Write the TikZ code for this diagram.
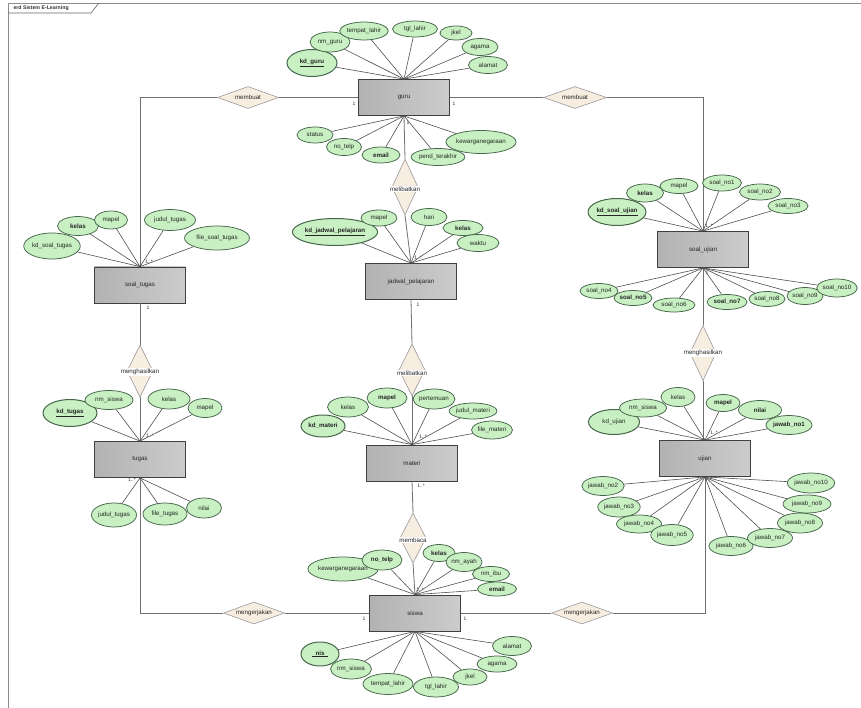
\documentclass[tikz,border=0pt]{standalone}
\usepackage{fontspec}
\setmainfont{Liberation Sans}
\usetikzlibrary{shapes.geometric}
\definecolor{attrfill}{HTML}{C8F0C2}
\definecolor{attrdraw}{HTML}{46664A}
\definecolor{relfill}{HTML}{F7EDE0}
\definecolor{reldraw}{HTML}{9A9A9A}
\definecolor{entleft}{HTML}{B2B2B2}
\definecolor{entright}{HTML}{CCCCCC}
\definecolor{wire}{HTML}{707070}
\definecolor{spoke}{HTML}{505050}
\newcommand{\tinyfont}{\fontsize{6.2}{7}\selectfont}
\newcommand{\cardfont}{\fontsize{5}{6}\selectfont}
\tikzset{
  attr/.style 2 args={ellipse, draw=attrdraw, fill=attrfill, line width=0.75pt,
    inner sep=0pt, minimum width=#1pt, minimum height=#2pt, font=\tinyfont, text=black!85},
  entity/.style={rectangle, draw=black!75, line width=0.8pt, left color=entleft,
    right color=entright, minimum width=91pt, minimum height=36pt, inner sep=0pt,
    font=\tinyfont, text=black!85},
  relh/.style={diamond, draw=reldraw, fill=relfill, line width=0.6pt, inner sep=0pt,
    minimum width=61pt, minimum height=22pt},
  relv/.style={diamond, draw=reldraw, fill=relfill, line width=0.6pt, inner sep=0pt,
    minimum width=26pt, minimum height=54pt},
  rellabel/.style={font=\tinyfont, text=black!85, inner sep=0.8pt},
  relvlabel/.style={font=\tinyfont, text=black!85, fill=white, inner sep=0.8pt},
  link/.style={draw=wire, line width=0.8pt},
  spokeline/.style={draw=spoke, line width=0.6pt},
  card/.style={font=\cardfont, text=black!80, inner sep=0pt},
}
\begin{document}
\begin{tikzpicture}[x=1pt,y=-1pt]
\useasboundingbox (0,0) rectangle (861,708);
\fill[white] (0,0) rectangle (861,708);

% diagram frame and its title tab
\draw[black!45, line width=0.5pt] (8,708) -- (8,3) -- (861,3);
\draw[black!60, line width=0.6pt] (8,13) -- (91,13) -- (99,3);
\node[font=\fontsize{5.2}{6}\selectfont\bfseries, text=black!80, anchor=west] (title) at (10,8.2) {erd Sistem E-Learning};

% entities
\node[entity] (guru) at (404,97.5) {guru};
\node[entity] (soaltugas) at (140,285) {soal\_tugas};
\node[entity] (jadwal) at (411,281.5) {jadwal\_pelajaran};
\node[entity] (soalujian) at (703,249.5) {soal\_ujian};
\node[entity] (tugas) at (140,459.5) {tugas};
\node[entity] (materi) at (412,463) {materi};
\node[entity] (ujian) at (705,458.5) {ujian};
\node[entity] (siswa) at (415,613) {siswa};

% relationships
\node[relh] (mbA) at (248,97.5) {};
\node[rellabel] (mbAt) at (mbA) {membuat};
\node[relh, minimum width=63pt] (mbB) at (575,97.5) {};
\node[rellabel] (mbBt) at (mbB) {membuat};
\node[relv, minimum height=56pt] (mlA) at (405,187) {};
\node[relvlabel] (mlAt) at (405,189) {melibatkan};
\node[relv, minimum height=52pt] (mlB) at (412,370) {};
\node[relvlabel] (mlBt) at (412,373) {melibatkan};
\node[relv, minimum height=52pt] (mhA) at (140,371) {};
\node[relvlabel] (mhAt) at (140,372) {menghasilkan};
\node[relv, minimum height=55pt] (mhB) at (703,353) {};
\node[relvlabel] (mhBt) at (703,353) {menghasilkan};
\node[relv, minimum height=50pt] (mc) at (413,538) {};
\node[relvlabel] (mct) at (413,540) {membaca};
\node[relh] (mkA) at (254,613) {};
\node[rellabel] (mkAt) at (mkA) {mengerjakan};
\node[relh] (mkB) at (582,613) {};
\node[rellabel] (mkBt) at (mkB) {mengerjakan};

% relationship connectors
\draw[link] (guru.west) -- (mbA.east);
\draw[link] (mbA.west) -| (soaltugas.north);
\draw[link] (guru.east) -- (mbB.west);
\draw[link] (mbB.east) -| (soalujian.north);
\draw[link] (guru.south) -- (mlA.north);
\draw[link] (mlA.south) -- (jadwal.north);
\draw[link] (jadwal.south) -- (mlB.north);
\draw[link] (mlB.south) -- (materi.north);
\draw[link] (soaltugas.south) -- (mhA.north);
\draw[link] (mhA.south) -- (tugas.north);
\draw[link] (soalujian.south) -- (mhB.north);
\draw[link] (mhB.south) -- (mhB.south |- ujian.north);
\draw[link] (materi.south) -- (mc.north);
\draw[link] (mc.south) -- (siswa.north);
\draw[link] (tugas.south) |- (mkA.west);
\draw[link] (mkA.east) -- (siswa.west);
\draw[link] (siswa.east) -- (mkB.west);
\draw[link] (mkB.east) -| (ujian.south);

% cardinalities
\node[card] (c1) at (354,104) {1};
\node[card] (c2) at (454,104) {1};
\node[card] (c3) at (408,123) {1};
\node[card] (c4) at (149,262) {1..*};
\node[card] (c5) at (148,308) {1};
\node[card] (c6) at (418,258) {1..*};
\node[card] (c7) at (418,305) {1};
\node[card] (c8) at (709,226) {1..*};
\node[card] (c9) at (707,273) {1};
\node[card] (c10) at (150,436) {1..*};
\node[card] (c11) at (132,480) {1..*};
\node[card] (c12) at (423,437) {1..*};
\node[card] (c13) at (421,486) {1..*};
\node[card] (c14) at (714,433) {1..*};
\node[card] (c15) at (709,479) {1..*};
\node[card] (c16) at (420,590) {1..*};
\node[card] (c17) at (364,619) {1};
\node[card] (c18) at (465,619) {1};

% attributes of guru
\node[attr={50}{27}, line width=1pt, font=\tinyfont\bfseries] (gA1) at (312,63) {\underline{kd\_guru}};
\node[attr={40}{20}] (gA2) at (330,42) {nm\_guru};
\node[attr={44}{18}] (gA3) at (364,31) {tempat\_lahir};
\node[attr={45}{16}] (gA4) at (415,29) {tgl\_lahir};
\node[attr={32}{14}] (gA5) at (456,33) {jkel};
\node[attr={36}{17}] (gA6) at (480,47) {agama};
\node[attr={39}{17}] (gA7) at (488,65) {alamat};
\node[attr={36}{16}] (gB1) at (315,135) {status};
\node[attr={35}{17}] (gB2) at (344,147) {no\_telp};
\node[attr={38}{16}, font=\tinyfont\bfseries] (gB3) at (381,155) {email};
\node[attr={50}{17}] (gB4) at (438,157) {pend\_terakhir};
\node[attr={62}{23}] (gB5) at (481,142) {kewarganegaraan};
\foreach \a in {gA1,gA2,gA3,gA4,gA5,gA6,gA7} \draw[spokeline] (\a) -- (guru.north);
\foreach \a in {gB1,gB2,gB3,gB4,gB5} \draw[spokeline] (\a) -- (guru.south);

% attributes of soal_ujian
\node[attr={48}{27}, line width=1pt, font=\tinyfont\bfseries] (uA1) at (617,212) {\underline{kd\_soal\_ujian}};
\node[attr={37}{18}, font=\tinyfont\bfseries] (uA2) at (645,193) {kelas};
\node[attr={38}{15}] (uA3) at (679,186) {mapel};
\node[attr={39}{16}] (uA4) at (722,183) {soal\_no1};
\node[attr={41}{16}] (uA5) at (760,192) {soal\_no2};
\node[attr={40}{15}] (uA6) at (788,206) {soal\_no3};
\node[attr={38}{15}] (uB1) at (599,291) {soal\_no4};
\node[attr={38}{15}, font=\tinyfont\bfseries] (uB2) at (633,298) {soal\_no5};
\node[attr={42}{14}] (uB3) at (674,305) {soal\_no6};
\node[attr={40}{15}, font=\tinyfont\bfseries] (uB4) at (727,302) {soal\_no7};
\node[attr={36}{15}] (uB5) at (767,299) {soal\_no8};
\node[attr={36}{17}] (uB6) at (805,296) {soal\_no9};
\node[attr={40}{18}] (uB7) at (837,288) {soal\_no10};
\foreach \a in {uA1,uA2,uA3,uA4,uA5,uA6} \draw[spokeline] (\a) -- (soalujian.north);
\foreach \a in {uB1,uB2,uB3,uB4,uB5,uB6,uB7} \draw[spokeline] (\a) -- (soalujian.south);

% attributes of soal_tugas
\node[attr={53}{26}] (tA1) at (52,246) {kd\_soal\_tugas};
\node[attr={41}{19}, font=\tinyfont\bfseries] (tA2) at (78,226) {kelas};
\node[attr={33}{18}] (tA3) at (111,220) {mapel};
\node[attr={51}{21}] (tA4) at (170,220) {judul\_tugas};
\node[attr={65}{24}] (tA5) at (217,238) {file\_soal\_tugas};
\foreach \a in {tA1,tA2,tA3,tA4,tA5} \draw[spokeline] (\a) -- (soaltugas.north);

% attributes of jadwal_pelajaran
\node[attr={71}{27}, line width=1pt, font=\tinyfont\bfseries] (jA1) at (335,232) {\underline{kd\_jadwal\_pelajaran}};
\node[attr={36}{16}] (jA2) at (379,218) {mapel};
\node[attr={36}{17}] (jA3) at (429,217) {hari};
\node[attr={40}{15}, font=\tinyfont\bfseries] (jA4) at (463,228) {kelas};
\node[attr={42}{17}] (jA5) at (478,243) {waktu};
\foreach \a in {jA1,jA2,jA3,jA4,jA5} \draw[spokeline] (\a) -- (jadwal.north);

% attributes of tugas
\node[attr={54}{27}, line width=1pt, font=\tinyfont\bfseries] (sA1) at (70,413) {\underline{kd\_tugas}};
\node[attr={48}{19}] (sA2) at (109,400) {nm\_siswa};
\node[attr={42}{20}] (sA3) at (169,399) {kelas};
\node[attr={34}{19}] (sA4) at (205,408) {mapel};
\node[attr={45}{24}] (sB1) at (114,515) {judul\_tugas};
\node[attr={44}{22}] (sB2) at (165,514) {file\_tugas};
\node[attr={35}{20}] (sB3) at (204,508) {nilai};
\foreach \a in {sA1,sA2,sA3,sA4} \draw[spokeline] (\a) -- (tugas.north);
\foreach \a in {sB1,sB2,sB3} \draw[spokeline] (\a) -- (tugas.south);

% attributes of materi
\node[attr={44}{22}, line width=1pt, font=\tinyfont\bfseries] (mA1) at (323,426) {kd\_materi};
\node[attr={41}{20}] (mA2) at (348,407) {kelas};
\node[attr={40}{20}, font=\tinyfont\bfseries] (mA3) at (387,398) {mapel};
\node[attr={39}{20}] (mA4) at (434,399) {pertemuan};
\node[attr={43}{16}] (mA5) at (473,411) {judul\_materi};
\node[attr={41}{18}] (mA6) at (492,430) {file\_materi};
\foreach \a in {mA1,mA2,mA3,mA4,mA5,mA6} \draw[spokeline] (\a) -- (materi.north);

% attributes of ujian
\node[attr={51}{25}, line width=1pt] (jjA1) at (614,422) {kd\_ujian};
\node[attr={47}{18}] (jjA2) at (643,408) {nm\_siswa};
\node[attr={34}{19}] (jjA3) at (678,397) {kelas};
\node[attr={34}{17}, font=\tinyfont\bfseries] (jjA4) at (723,403) {mapel};
\node[attr={43}{19}, font=\tinyfont\bfseries] (jjA5) at (760,410) {nilai};
\node[attr={46}{19}, font=\tinyfont\bfseries] (jjA6) at (789,425) {jawab\_no1};
\node[attr={40}{19}] (jjB1) at (603,486) {jawab\_no2};
\node[attr={42}{20}] (jjB2) at (619,507) {jawab\_no3};
\node[attr={45}{18}] (jjB3) at (639,524) {jawab\_no4};
\node[attr={39}{21}] (jjB4) at (672,535) {jawab\_no5};
\node[attr={44}{19}] (jjB5) at (731,546) {jawab\_no6};
\node[attr={45}{19}] (jjB6) at (770,538) {jawab\_no7};
\node[attr={45}{20}] (jjB7) at (800,523) {jawab\_no8};
\node[attr={48}{18}] (jjB8) at (807,504) {jawab\_no9};
\node[attr={47}{20}] (jjB9) at (811,483) {jawab\_no10};
\foreach \a in {jjA1,jjA2,jjA3,jjA4,jjA5,jjA6} \draw[spokeline] (\a) -- (ujian.north);
\foreach \a in {jjB1,jjB2,jjB3,jjB4,jjB5,jjB6,jjB7,jjB8,jjB9} \draw[spokeline] (\a) -- (ujian.south);

% attributes of siswa
\node[attr={62}{24}] (wA1) at (343,569) {kewarganegaraan};
\node[attr={40}{20}, font=\tinyfont\bfseries] (wA2) at (382,560) {no\_telp};
\node[attr={32}{17}, font=\tinyfont\bfseries] (wA3) at (439,553) {kelas};
\node[attr={35}{19}] (wA4) at (464,562) {nm\_ayah};
\node[attr={37}{15}] (wA5) at (491,574) {nm\_ibu};
\node[attr={39}{14}, font=\tinyfont\bfseries] (wA6) at (497,589) {email};
\node[attr={38}{24}, line width=1pt, font=\tinyfont\bfseries] (wB1) at (320,654) {\underline{\ \ nis\ \ }};
\node[attr={41}{20}] (wB2) at (351,669) {nm\_siswa};
\node[attr={50}{21}] (wB3) at (388,684) {tempat\_lahir};
\node[attr={45}{20}] (wB4) at (436,687) {tgl\_lahir};
\node[attr={34}{16}] (wB5) at (470,677) {jkel};
\node[attr={40}{16}] (wB6) at (497,664) {agama};
\node[attr={39}{19}] (wB7) at (512,646) {alamat};
\foreach \a in {wA1,wA2,wA3,wA4,wA5,wA6} \draw[spokeline] (\a) -- (siswa.north);
\foreach \a in {wB1,wB2,wB3,wB4,wB5,wB6,wB7} \draw[spokeline] (\a) -- (siswa.south);
\end{tikzpicture}
\end{document}
